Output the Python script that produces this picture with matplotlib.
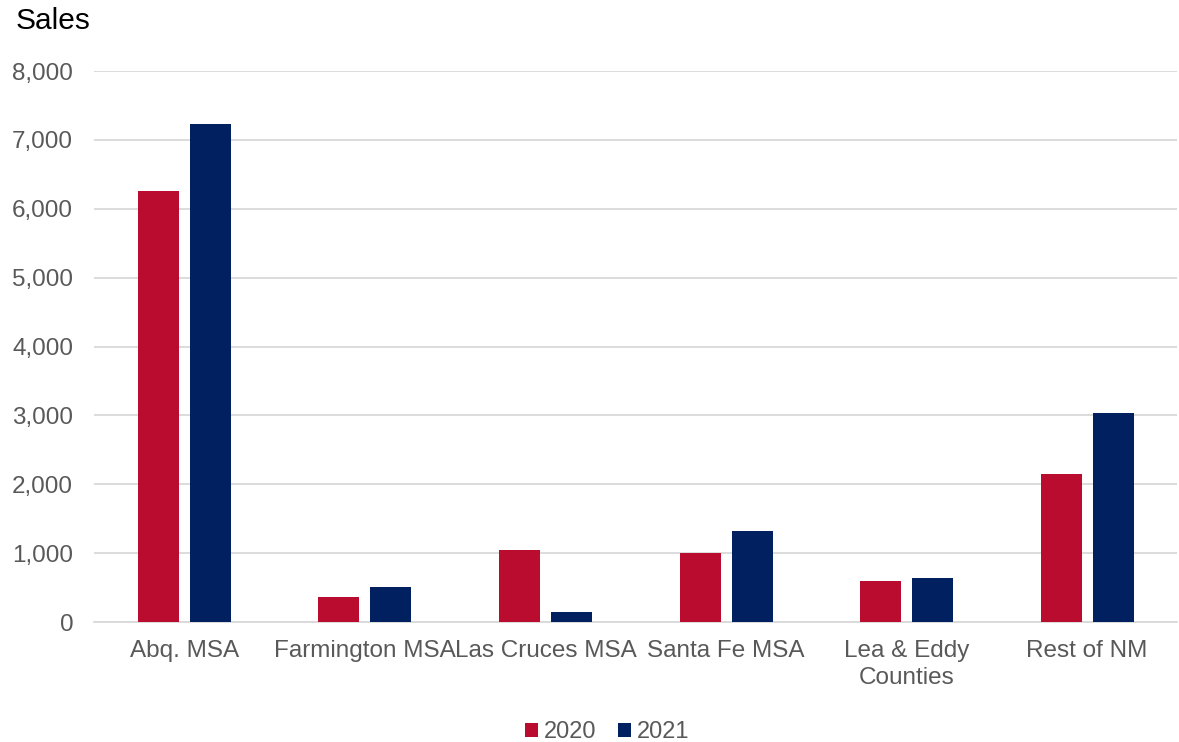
import numpy as np
import matplotlib
matplotlib.use("Agg")
import matplotlib.pyplot as plt
from matplotlib.ticker import FuncFormatter

categories = ["Abq. MSA", "Farmington MSA", "Las Cruces MSA", "Santa Fe MSA",
              "Lea & Eddy\nCounties", "Rest of NM"]
sales_2020 = [6260, 360, 1045, 1005, 590, 2145]
sales_2021 = [7230, 515, 145, 1320, 645, 3030]

RED = "#BA0C2F"
NAVY = "#002060"
GRID = "#D9D9D9"
TEXT = "#595959"

plt.rcParams["font.family"] = ["Liberation Sans", "DejaVu Sans"]

fig = plt.figure(figsize=(11.79, 7.42), dpi=100)
ax = fig.add_axes([0.0797, 0.1617, 0.919, 0.7425])

x = np.arange(len(categories))
w = 0.227
off = 0.144
ax.bar(x - off, sales_2020, w, color=RED, label="2020", zorder=3)
ax.bar(x + off, sales_2021, w, color=NAVY, label="2021", zorder=3)

ax.set_xlim(-0.5, len(categories) - 0.5)
ax.set_ylim(0, 8000)
ax.set_yticks(range(0, 8001, 1000))
ax.yaxis.set_major_formatter(FuncFormatter(lambda v, p: f"{int(v):,}"))
ax.grid(axis="y", color=GRID, linewidth=1.3, zorder=0)
ax.set_axisbelow(True)

for s in ["top", "right", "left"]:
    ax.spines[s].set_visible(False)
ax.spines["bottom"].set_color(GRID)
ax.spines["bottom"].set_linewidth(1.3)

ax.set_xticks(x)
ax.set_xticklabels(categories, linespacing=1.3)
ax.tick_params(axis="both", length=0, labelsize=17.5, colors=TEXT)
ax.tick_params(axis="y", pad=15)
ax.tick_params(axis="x", pad=13)

fig.text(0.013, 0.99, "Sales", fontsize=21.5, color="black", va="top", ha="left")

leg = fig.legend(loc="lower center", bbox_to_anchor=(0.515, -0.03), ncol=2,
                 frameon=False, fontsize=17, handlelength=0.55, handleheight=0.55,
                 handletextpad=0.25, columnspacing=0.9)
for t in leg.get_texts():
    t.set_color(TEXT)

fig.savefig("out.png", dpi=100)
